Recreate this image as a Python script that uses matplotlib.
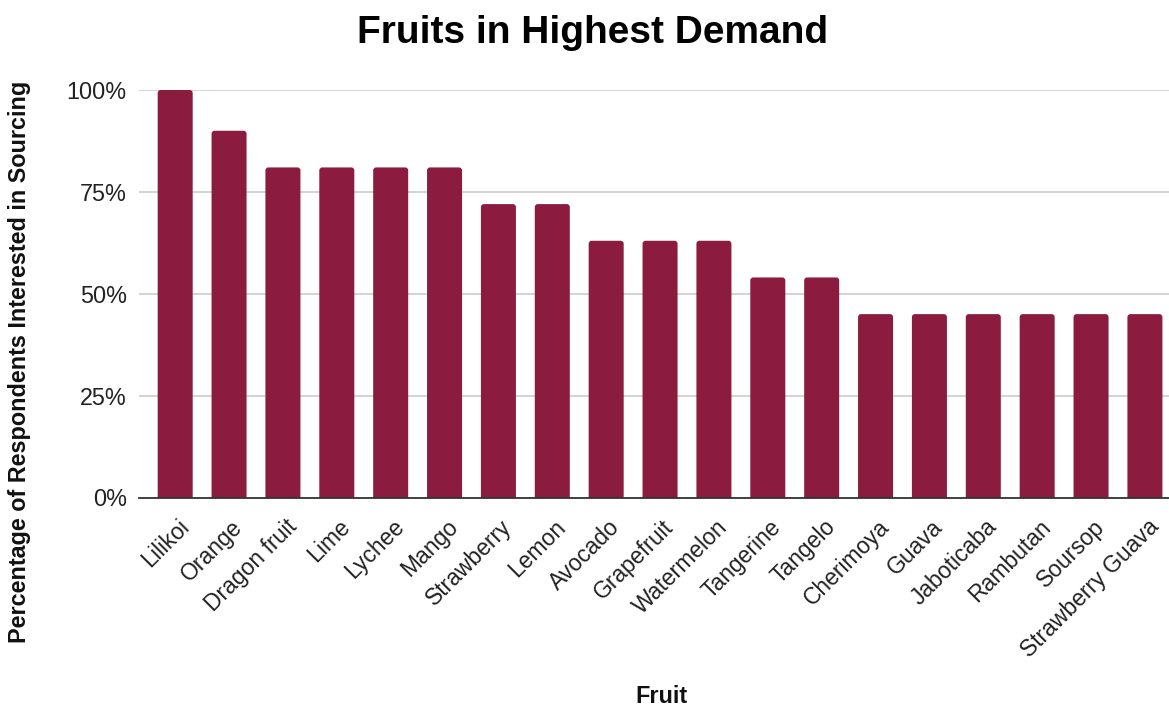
import matplotlib
matplotlib.use("Agg")
import matplotlib.pyplot as plt
from matplotlib.ticker import FuncFormatter
from matplotlib.patches import FancyBboxPatch
from matplotlib.transforms import ScaledTranslation

fruits = ["Lilikoi", "Orange", "Dragon fruit", "Lime", "Lychee", "Mango", "Strawberry",
          "Lemon", "Avocado", "Grapefruit", "Watermelon", "Tangerine", "Tangelo",
          "Cherimoya", "Guava", "Jaboticaba", "Rambutan", "Soursop", "Strawberry Guava"]
percent = [100, 90, 81, 81, 81, 81, 72, 72, 63, 63, 63,
           54, 54, 45, 45, 45, 45, 45, 45]
yticks = [0, 25, 50, 75, 100]

plt.rcParams['font.family'] = ['Liberation Sans', 'DejaVu Sans']

W, H = 1169, 706
fig = plt.figure(figsize=(W / 100, H / 100), dpi=100)
ax_l, ax_r, ax_b, ax_t = 139.3, 1169, 497.5, 90
ax = fig.add_axes([ax_l / W, 1 - ax_b / H, (ax_r - ax_l) / W, (ax_b - ax_t) / H])

x = list(range(len(fruits)))
bars = ax.bar(x, percent, width=0.65, color="#8b1c40", zorder=3)

xmin, xmax = -0.666, 18.447
ax.set_xlim(xmin, xmax)
ax.set_ylim(0, 100)

# rounded top corners
px_per_x = (ax_r - ax_l) / (xmax - xmin)
px_per_y = (ax_b - ax_t) / 100.0
for b in bars:
    b.set_visible(False)
    r = 3.0 / px_per_x
    p = FancyBboxPatch((b.get_x(), -3), b.get_width(), b.get_height() + 3,
                       boxstyle=f"round,pad=0,rounding_size={r}",
                       mutation_aspect=px_per_x / px_per_y,
                       facecolor="#8b1c40", edgecolor="none", zorder=3)
    ax.add_patch(p)

ax.set_yticks(yticks)
ax.yaxis.set_major_formatter(FuncFormatter(lambda v, p: f"{int(v)}%"))
ax.grid(axis='y', color="#cccccc", linewidth=1.2, zorder=0)
ax.set_axisbelow(True)
for s in ["top", "right", "left"]:
    ax.spines[s].set_visible(False)
ax.spines["bottom"].set_color("#333333")
ax.spines["bottom"].set_linewidth(1.3)
ax.spines["bottom"].set_zorder(4)
ax.tick_params(axis='both', length=0, labelsize=16.8, colors="#222222")
ax.tick_params(axis='y', pad=9)
ax.set_xticks(x)
ax.set_xticklabels(fruits, rotation=45, ha='right', rotation_mode='anchor')
for lbl in ax.get_xticklabels():
    lbl.set_fontsize(16.5)
    lbl.set_transform(lbl.get_transform() + ScaledTranslation(0.02, -0.13, fig.dpi_scale_trans))

fig.text(0.507, 0.953, "Fruits in Highest Demand", ha='center', va='center',
         fontsize=28, fontweight='bold', color="#000000")
fig.text(0.5655, 0.013, "Fruit", ha='center', va='center', fontsize=16.8,
         fontweight='bold', color="#111111")
fig.text(0.0167, 0.488, "Percentage of Respondents Interested in Sourcing", ha='center',
         va='center', rotation=90, fontsize=16.8, fontweight='bold', color="#111111")

fig.savefig("out.png", dpi=100)
